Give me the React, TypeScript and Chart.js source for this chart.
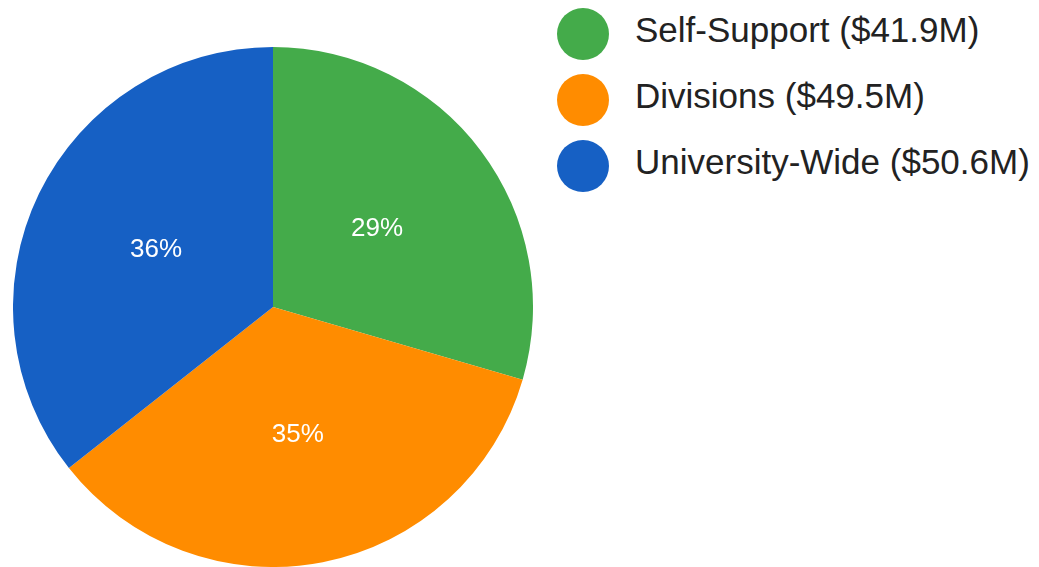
import React, { useEffect, useRef } from "react";
import { Chart, registerables } from "chart.js";

Chart.register(...registerables);

const categories = ["Self-Support", "Divisions", "University-Wide"];
const amounts = [41.9, 49.5, 50.6];
const amountLabels = ["$41.9M", "$49.5M", "$50.6M"];
const pctLabels = ["29%", "35%", "36%"];
const colors = ["#44AB4A", "#FF8C00", "#1660C4"];

const FONT = "'Liberation Sans', Arial, Helvetica, sans-serif";

const pctLabelPlugin = {
  id: "pctLabels",
  afterDatasetsDraw(chart: any) {
    const { ctx } = chart;
    const meta = chart.getDatasetMeta(0);
    ctx.save();
    ctx.fillStyle = "#ffffff";
    ctx.font = `26px ${FONT}`;
    ctx.textAlign = "center";
    ctx.textBaseline = "middle";
    meta.data.forEach((arc: any, i: number) => {
      const p = arc.getCenterPoint();
      ctx.fillText(pctLabels[i], p.x, p.y);
    });
    ctx.restore();
  },
};

export default function App() {
  const ref = useRef<HTMLCanvasElement>(null);
  useEffect(() => {
    if (!ref.current) return;
    const chart = new Chart(ref.current, {
      type: "pie",
      data: {
        labels: categories,
        datasets: [
          {
            data: amounts,
            backgroundColor: colors,
            borderWidth: 0,
            hoverOffset: 0,
          },
        ],
      },
      options: {
        responsive: false,
        animation: false,
        layout: { padding: 0 },
        plugins: {
          legend: { display: false },
          tooltip: { enabled: false },
        },
      },
      plugins: [pctLabelPlugin],
    });
    return () => chart.destroy();
  }, []);

  return (
    <div
      style={{
        position: "fixed",
        left: 0,
        top: 0,
        width: 1039,
        height: 567,
        background: "#ffffff",
        overflow: "hidden",
      }}
    >
      <canvas
        ref={ref}
        width={520}
        height={520}
        style={{ position: "absolute", left: 13, top: 47, width: 520, height: 520 }}
      />
      {categories.map((c, i) => (
        <div
          key={c}
          style={{
            position: "absolute",
            left: 557,
            top: 34 + i * 66 - 26,
            height: 52,
            display: "flex",
            alignItems: "center",
            whiteSpace: "nowrap",
          }}
        >
          <div
            style={{
              width: 52,
              height: 52,
              borderRadius: "50%",
              background: colors[i],
              flex: "none",
            }}
          />
          <span
            style={{
              marginLeft: 26,
              position: "relative",
              top: -4,
              fontFamily: FONT,
              fontSize: 35,
              color: "#222222",
              lineHeight: "52px",
            }}
          >
            {`${c} (${amountLabels[i]})`}
          </span>
        </div>
      ))}
    </div>
  );
}
